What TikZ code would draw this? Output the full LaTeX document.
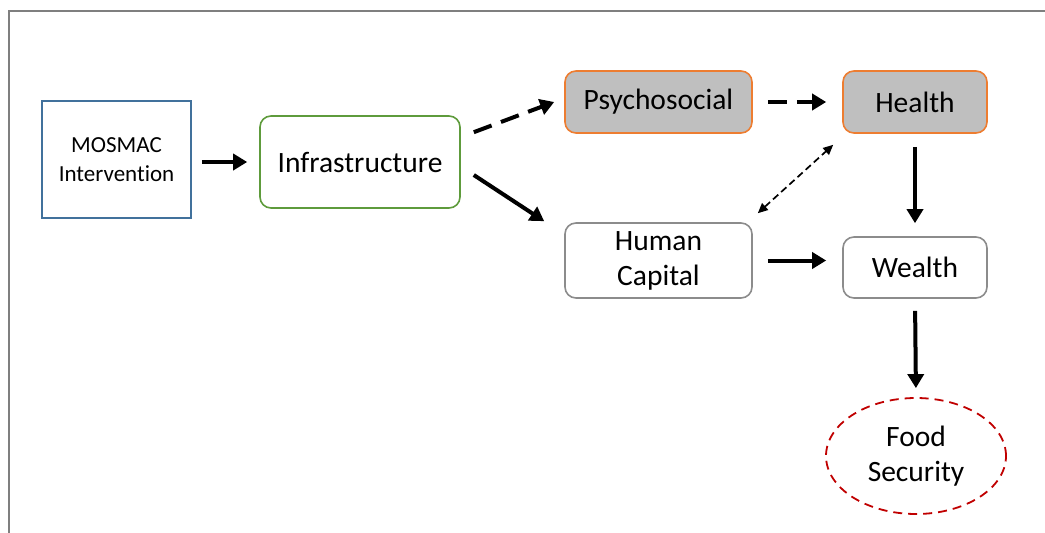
\documentclass[tikz,border=0pt]{standalone}
\usepackage{fontspec}
\setmainfont{Carlito}[Ligatures=NoCommon]
\usetikzlibrary{arrows.meta,calc,shapes.geometric}
\definecolor{boxblue}{HTML}{41719C}
\definecolor{boxgreen}{HTML}{5E9B3C}
\definecolor{boxorange}{HTML}{ED7D31}
\definecolor{boxfill}{HTML}{BFBFBF}
\definecolor{boxgray}{HTML}{8C8C8C}
\definecolor{foodred}{HTML}{C00000}
\definecolor{framegray}{HTML}{7F7F7F}
\tikzset{
  bigtext/.style={font=\fontsize{29.5}{35}\selectfont},
  basebox/.style={draw, line width=1.6pt, inner sep=0pt, align=center, bigtext},
  mosbox/.style={basebox, draw=boxblue, rounded corners=0pt, font=\fontsize{23}{28.5}\selectfont},
  infbox/.style={basebox, draw=boxgreen, rounded corners=11pt},
  hotbox/.style={basebox, draw=boxorange, fill=boxfill, rounded corners=11pt},
  plainbox/.style={basebox, draw=boxgray, rounded corners=11pt},
  foodnode/.style={ellipse, draw=foodred, line width=1.8pt, dash pattern=on 9pt off 6pt, inner sep=0pt, align=center, bigtext},
  thickarrow/.style={line width=4pt, -{Triangle[length=14pt,width=16pt]}},
  dasharrow/.style={thickarrow, dash pattern=on 19pt off 10pt},
  thinarrow/.style={line width=1.7pt, dash pattern=on 7pt off 4pt, {Triangle[length=10pt,width=9pt]}-{Triangle[length=10pt,width=9pt]}},
}
\begin{document}
\begin{tikzpicture}[x=1pt,y=-1pt]
\useasboundingbox (0,0) rectangle (1045,533);
\draw[framegray, line width=2pt] (8.5,533) -- (8.5,10.5) -- (1045,10.5);

\node[mosbox, minimum width=149pt, minimum height=117pt] (mos) at (116.5,159.5) {MOSMAC\\Intervention};
\node[infbox, minimum width=200pt, minimum height=92pt] (inf) at (360,162) {Infrastructure};
\node[hotbox, minimum width=187pt, minimum height=62pt] (psy) at (658.5,102) {Psychosocial};
\node[hotbox, minimum width=144pt, minimum height=62pt] (hea) at (915,102) {Health};
\node[plainbox, minimum width=187pt, minimum height=75pt] (hum) at (658.5,260.5) {Human\\Capital};
\node[plainbox, minimum width=144pt, minimum height=61pt] (wea) at (915,267.5) {Wealth};
\node[foodnode, minimum width=180pt, minimum height=116pt] (food) at (916,456) {Food\\Security};

\draw[thickarrow, shorten <=10pt, shorten >=12pt] (mos.east |- inf.west) -- (inf.west);
\draw[dasharrow] ($(inf.north east)+(13,17)$) -- ($(psy.west)+(-10,0)$);
\draw[thickarrow] ($(inf.east)+(13,13)$) -- ($(hum.north west)+(-20,-1)$);
\draw[dasharrow, shorten <=15pt, shorten >=16pt] (psy.east) -- (hea.west);
\draw[thinarrow] ($(hum.north east)+(5,-9)$) -- ($(hea.south west)+(-9,11)$);
\draw[thickarrow, shorten <=13pt, shorten >=13pt] (hea.south) -- (wea.north);
\draw[thickarrow, shorten <=15pt, shorten >=16pt] (hum.east) -- (hum.east -| wea.west);
\draw[thickarrow, shorten <=12pt, shorten >=9pt] (wea.south) -- (food.north);
\end{tikzpicture}
\end{document}
